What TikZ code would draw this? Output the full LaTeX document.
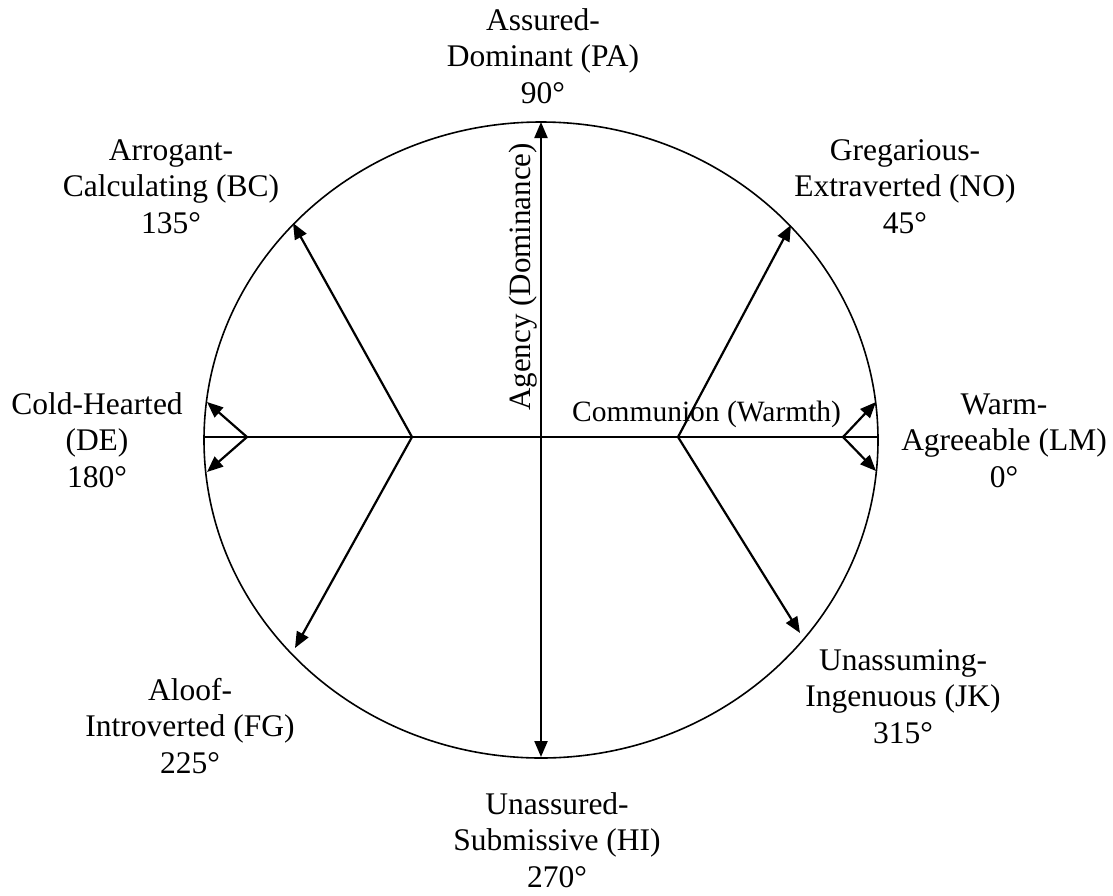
\documentclass[tikz,border=0pt]{standalone}
\usepackage{fontspec}
\setmainfont{Liberation Serif}
\usetikzlibrary{arrows.meta}
\tikzset{
  lbl/.style={align=center, anchor=base, inner sep=0pt, font=\fontsize{31.5}{36.5}\selectfont},
  axislbl/.style={inner sep=0pt, font=\fontsize{31}{36.5}\selectfont},
  vec/.style={line width=2.2pt, -{Triangle[length=16pt,width=13pt]}},
  bivec/.style={line width=2.2pt, {Triangle[length=16pt,width=13pt]}-{Triangle[length=16pt,width=13pt]}},
  axis/.style={line width=2.2pt},
  rim/.style={line width=1.6pt}
}
\begin{document}
\begin{tikzpicture}[x=1pt,y=-1pt]
\useasboundingbox (0,0) rectangle (1113,895);
% circle
\draw[rim] (541,440) ellipse [x radius=337, y radius=318];
% coordinates
\coordinate (C) at (541,437);
\coordinate (L) at (204,437);
\coordinate (R) at (878,437);
\coordinate (T) at (541,122);
\coordinate (B) at (541,757);
\coordinate (VL) at (412,437);
\coordinate (VR) at (678,437);
\coordinate (SL) at (247,437);
\coordinate (SR) at (843,437);
\coordinate (tBC) at (293,223);
\coordinate (tFG) at (295,648);
\coordinate (tNO) at (791,225);
\coordinate (tJK) at (800,633);
\coordinate (tDEu) at (207,402);
\coordinate (tDEd) at (207,472);
\coordinate (tLMu) at (876,402);
\coordinate (tLMd) at (876,471);
% axes
\draw[axis] (L) -- (R);
\draw[bivec] (B) -- (T);
% vectors
\draw[vec] (VL) -- (tBC);
\draw[vec] (VL) -- (tFG);
\draw[vec] (VR) -- (tNO);
\draw[vec] (VR) -- (tJK);
\draw[vec] (SL) -- (tDEu);
\draw[vec] (SL) -- (tDEd);
\draw[vec] (SR) -- (tLMu);
\draw[vec] (SR) -- (tLMd);
% axis labels
\node[axislbl, rotate=90, anchor=base west] (ag) at (530,411) {Agency (Dominance)};
\node[axislbl, anchor=base west, font=\fontsize{29.5}{36.5}\selectfont] (co) at (572,421) {Communion (Warmth)};
% octant labels
\node[lbl] (PA) at (543,103) {Assured-\\Dominant (PA)\\90°};
\node[lbl] (NO) at (905,233) {Gregarious-\\Extraverted (NO)\\45°};
\node[lbl] (LM) at (1004,487) {Warm-\\Agreeable (LM)\\0°};
\node[lbl] (JK) at (903,743) {Unassuming-\\Ingenuous (JK)\\315°};
\node[lbl] (HI) at (557,887) {Unassured-\\Submissive (HI)\\270°};
\node[lbl] (FG) at (190,773) {Aloof-\\Introverted (FG)\\225°};
\node[lbl] (DE) at (97,487) {Cold-Hearted\\(DE)\\180°};
\node[lbl] (BC) at (171,233) {Arrogant-\\Calculating (BC)\\135°};
\end{tikzpicture}
\end{document}
